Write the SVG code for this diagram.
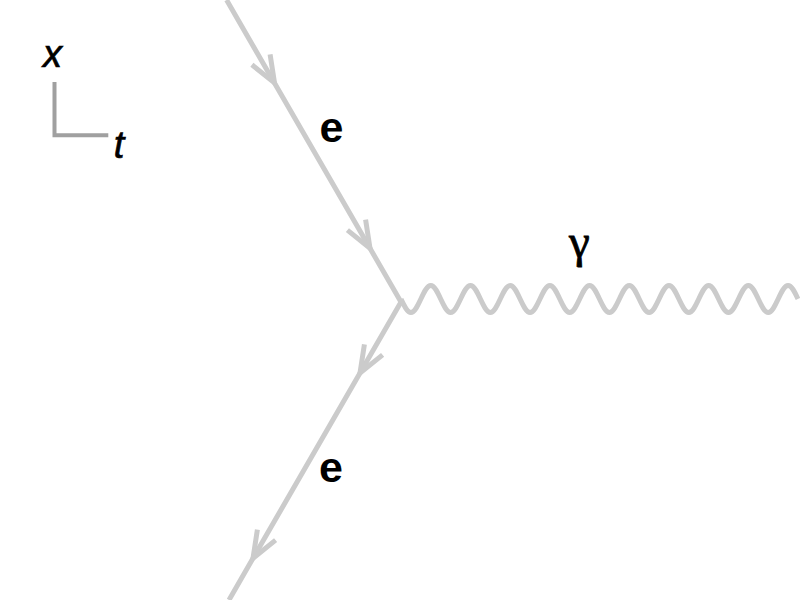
<svg xmlns="http://www.w3.org/2000/svg" width="800" height="600" viewBox="0 0 800 600">
<style>
.fermion{fill:none;stroke:#cbcbcb;stroke-width:5;marker-mid:url(#arr)}
.photon{fill:none;stroke:#cbcbcb;stroke-width:5}
.axis{fill:none;stroke:#a0a0a0;stroke-width:4}
.lbl{font-family:"Liberation Sans",Arial,sans-serif;font-weight:bold;font-size:43px;fill:#000;text-anchor:middle}
.ax{font-family:"Liberation Sans",Arial,sans-serif;font-style:italic;font-size:38px;fill:#000;stroke:#000;stroke-width:0.7;text-anchor:middle}
.gam{font-family:"Liberation Serif","Times New Roman",serif;font-size:47px;fill:#000;stroke:#000;stroke-width:0.8;text-anchor:middle}
</style>
<defs>
<marker id="arr" markerUnits="userSpaceOnUse" orient="auto" overflow="visible" markerWidth="1" markerHeight="1" refX="0" refY="0">
<path d="M-27,-10.5 L0,0 L-27,10.5" fill="none" stroke="#cbcbcb" stroke-width="5"/>
</marker>
</defs>
<rect width="800" height="600" fill="#fff"/>
<g id="axes">
<path class="axis" d="M54.5,82 V135.3 H108.3"/>
<text class="ax" x="52.5" y="66.5">x</text>
<text class="ax" x="119" y="157.5">t</text>
</g>
<g id="connectors">
<path id="e-in" class="fermion" d="M226.6,0 L274.5,82.9 L370,248.3 L401,302"/>
<path id="e-out" class="fermion" d="M401,302 L360,373 L253,558.3 L229,600"/>
<path id="photon" class="photon" d="M401,299 c3.237,6.916 6.333,13.5 9.925,13.5 s6.688,-6.584 9.925,-13.5 s6.333,-13.5 9.925,-13.5 s6.688,6.584 9.925,13.5
s6.333,13.5 9.925,13.5 s6.688,-6.584 9.925,-13.5 s6.333,-13.5 9.925,-13.5 s6.688,6.584 9.925,13.5
s6.333,13.5 9.925,13.5 s6.688,-6.584 9.925,-13.5 s6.333,-13.5 9.925,-13.5 s6.688,6.584 9.925,13.5
s6.333,13.5 9.925,13.5 s6.688,-6.584 9.925,-13.5 s6.333,-13.5 9.925,-13.5 s6.688,6.584 9.925,13.5
s6.333,13.5 9.925,13.5 s6.688,-6.584 9.925,-13.5 s6.333,-13.5 9.925,-13.5 s6.688,6.584 9.925,13.5
s6.333,13.5 9.925,13.5 s6.688,-6.584 9.925,-13.5 s6.333,-13.5 9.925,-13.5 s6.688,6.584 9.925,13.5
s6.333,13.5 9.925,13.5 s6.688,-6.584 9.925,-13.5 s6.333,-13.5 9.925,-13.5 s6.688,6.584 9.925,13.5
s6.333,13.5 9.925,13.5 s6.688,-6.584 9.925,-13.5 s6.333,-13.5 9.925,-13.5 s6.688,6.584 9.925,13.5
s6.333,13.5 9.925,13.5 s6.688,-6.584 9.925,-13.5 s6.333,-13.5 9.925,-13.5 s6.688,6.584 9.925,13.5
s6.333,13.5 9.925,13.5 s6.688,-6.584 9.925,-13.5 s6.333,-13.5 9.925,-13.5 s6.688,6.584 9.925,13.5"/>
</g>
<g id="labels">
<text id="label-e-in" class="lbl" x="331.5" y="141.5">e</text>
<text id="label-e-out" class="lbl" x="331" y="482">e</text>
<text id="label-gamma" class="gam" x="579.5" y="257">γ</text>
</g>
</svg>
